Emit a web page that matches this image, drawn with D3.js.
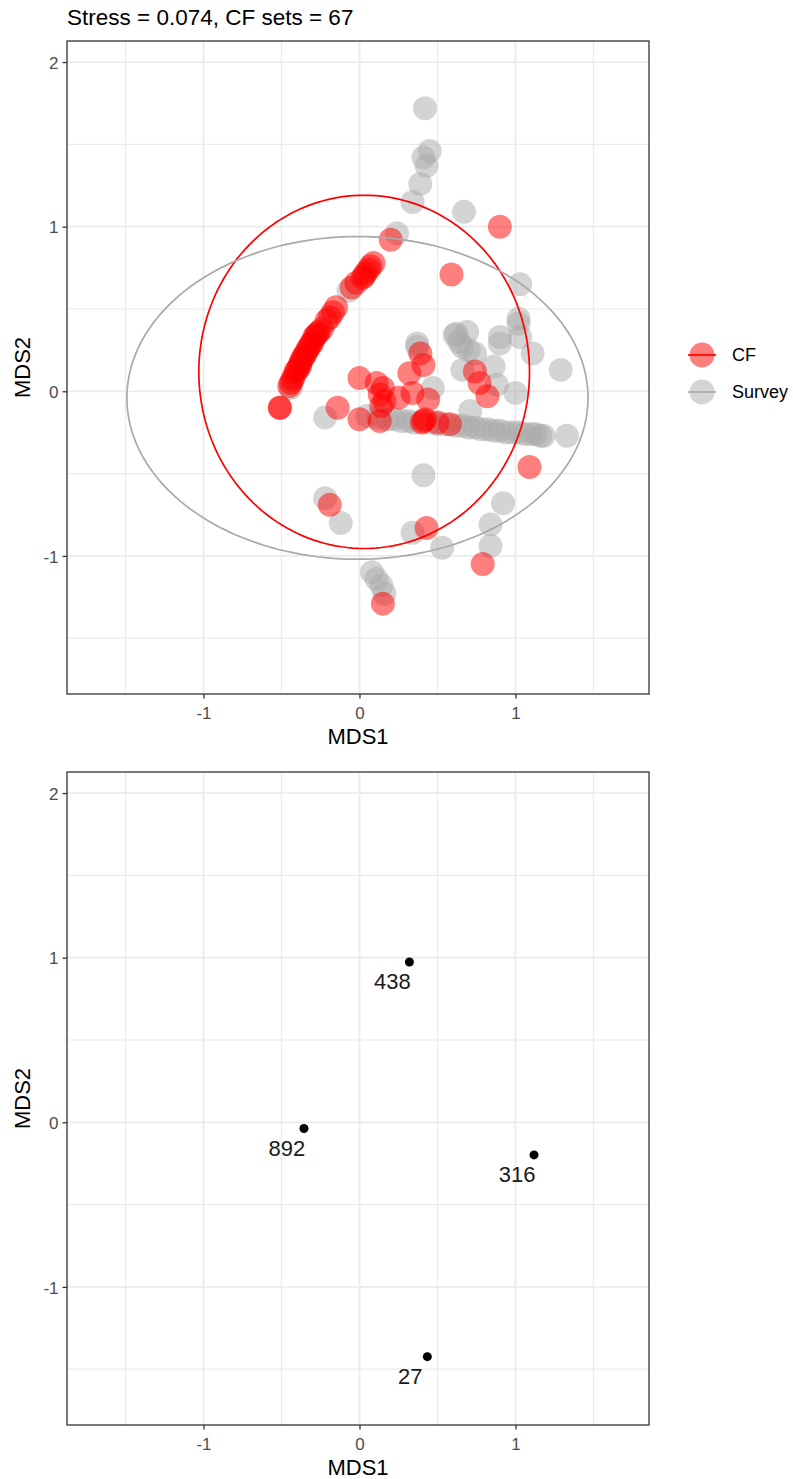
<!DOCTYPE html>
<html>
<head>
<meta charset="utf-8">
<script src="https://cdn.jsdelivr.net/npm/d3@7"></script>
<style>
  body { margin: 0; background: #fff; }
  svg text { font-family: "Liberation Sans", Arial, sans-serif; }
</style>
</head>
<body>
<div id="app"></div>
<script>
// CF sets (red)
const cfX = [-0.51, -0.45, -0.43, -0.42, -0.41, -0.39, -0.38, -0.37, -0.36, -0.34, -0.32, -0.30, -0.29, -0.27, -0.24, -0.21, -0.17, -0.15, -0.05, -0.02, 0.02, 0.04, 0.07, 0.09, 0.20,
  -0.44, -0.40, -0.38, -0.35, -0.33, -0.31, -0.28, -0.26, -0.19, 0.03, 0.06, -0.51,
  0.00, 0.11, 0.15, 0.13, 0.25, 0.32, 0.39, 0.41, 0.34, 0.44, -0.14, 0.00, 0.13, 0.14, 0.41, 0.50, 0.58, 0.74, 0.77, 0.82, 1.09, -0.19, 0.43, 0.79, 0.15, 0.90, 0.59, 0.16, 0.40, 0.42]
const cfY = [-0.10, 0.03, 0.07, 0.09, 0.12, 0.14, 0.16, 0.19, 0.21, 0.24, 0.27, 0.30, 0.33, 0.35, 0.38, 0.43, 0.48, 0.51, 0.63, 0.66, 0.69, 0.72, 0.76, 0.78, 0.92,
  0.05, 0.13, 0.17, 0.22, 0.26, 0.29, 0.34, 0.36, 0.45, 0.70, 0.74, -0.10,
  0.08, 0.05, 0.02, -0.02, -0.04, 0.11, 0.23, 0.16, -0.01, -0.05, -0.10, -0.17, -0.18, -0.09, -0.18, -0.19, -0.20, 0.12, 0.05, -0.03, -0.46, -0.69, -0.83, -1.05, -1.29, 1.00, 0.71, -0.06, -0.19, -0.17]

// Survey sets (grey)
const svX = [0.42, 0.45, 0.41, 0.43, 0.39, 0.34, 0.67, 0.24, -0.07, -0.44,
  1.03, 1.02, 0.62, 0.69, 0.90, 0.37, 0.37, 0.61, 0.66, 0.74, 0.90, 1.02, 1.03, 1.11, 1.29, 0.86, 0.66, 0.47, 0.88, 1.00, 0.71, 0.64, 0.70,
  -0.22,
  0.05, 0.12, 0.18, 0.22, 0.27, 0.31, 0.35, 0.45, 0.50, 0.55, 0.62, 0.66, 0.70, 0.74, 0.78, 0.82, 0.86, 0.90, 0.94, 0.98, 1.02, 1.06, 1.10, 1.13, 1.16, 1.18, 1.33,
  0.41, -0.22, -0.12, 0.34, 0.53, 0.92, 0.84, 0.84, 0.08, 0.11, 0.14, 0.16]
const svY = [1.72, 1.46, 1.42, 1.37, 1.26, 1.15, 1.09, 0.96, 0.61, 0.02,
  0.65, 0.44, 0.35, 0.36, 0.33, 0.29, 0.27, 0.34, 0.27, 0.23, 0.29, 0.41, 0.33, 0.23, 0.13, 0.15, 0.13, 0.02, 0.04, -0.01, -0.12, 0.30, 0.25,
  -0.16,
  -0.15, -0.16, -0.17, -0.17, -0.18, -0.18, -0.19, -0.19, -0.20, -0.20, -0.21, -0.21, -0.22, -0.22, -0.23, -0.23, -0.24, -0.24, -0.25, -0.25, -0.25, -0.26, -0.26, -0.26, -0.27, -0.27, -0.27,
  -0.51, -0.65, -0.80, -0.86, -0.95, -0.68, -0.81, -0.94, -1.10, -1.14, -1.18, -1.23]

// 95% ellipses: centre x, centre y, semi-axis x, semi-axis y
const groups = ['CF', 'Survey']
const groupColors = ['#ff0000', '#a9a9a9']
const ellCx = [0.03, -0.013]
const ellCy = [0.118, -0.04]
const ellRx = [1.06, 1.478]
const ellRy = [1.073, 0.98]

// bottom panel sites
const siteLabels = ['438', '892', '316', '27']
const siteX = [0.32, -0.356, 1.119, 0.435]
const siteY = [0.974, -0.038, -0.198, -1.424]

const title = 'Stress = 0.074, CF sets = 67'
const xTicks = [-1, 0, 1]
const yTicks = [-1, 0, 1, 2]
const xGrid = [-1.5, -1, -0.5, 0, 0.5, 1, 1.5]
const yGrid = [-1.5, -1, -0.5, 0, 0.5, 1, 1.5, 2]

const W = 793, H = 1479
const left = 67, right = 649

const svg = d3.select('#app').append('svg')
  .attr('width', W).attr('height', H)
  .attr('viewBox', [0, 0, W, H])

const x = d3.scaleLinear().domain([-1.875, 1.856]).range([left, right])

function panel(top, bottom) {
  const y = d3.scaleLinear().domain([-1.839, 2.128]).range([bottom, top])
  const g = svg.append('g')

  g.append('rect').attr('x', left).attr('y', top)
    .attr('width', right - left).attr('height', bottom - top).attr('fill', '#fff')

  g.selectAll('.vg').data(xGrid).join('line')
    .attr('x1', d => x(d)).attr('x2', d => x(d))
    .attr('y1', top).attr('y2', bottom)
    .attr('stroke', '#ebebeb')
    .attr('stroke-width', d => Number.isInteger(d) ? 1.8 : 1.2)
  g.selectAll('.hg').data(yGrid).join('line')
    .attr('y1', d => y(d)).attr('y2', d => y(d))
    .attr('x1', left).attr('x2', right)
    .attr('stroke', '#ebebeb')
    .attr('stroke-width', d => Number.isInteger(d) ? 1.8 : 1.2)

  // axes
  const xa = g.append('g').attr('transform', `translate(0,${bottom})`)
    .call(d3.axisBottom(x).tickValues(xTicks).tickSize(4.5).tickPadding(4).tickFormat(d => String(d)))
  const ya = g.append('g').attr('transform', `translate(${left},0)`)
    .call(d3.axisLeft(y).tickValues(yTicks).tickSize(4.5).tickPadding(4).tickFormat(d => String(d)))
  ;[xa, ya].forEach(a => {
    a.select('.domain').remove()
    a.selectAll('line').attr('stroke', '#333').attr('stroke-width', 1.3)
    a.selectAll('text').attr('fill', '#4d4d4d').style('font-size', '17px')
      .style('font-family', '"Liberation Sans", Arial, sans-serif')
  })
  xa.selectAll('text').attr('dy', null).attr('y', 25)
  ya.selectAll('text').attr('dy', '0.36em')

  g.append('text').attr('x', (left + right) / 2).attr('y', bottom + 50)
    .attr('text-anchor', 'middle').style('font-size', '22px').text('MDS1')
  g.append('text')
    .attr('transform', `translate(30,${(top + bottom) / 2}) rotate(-90)`)
    .attr('text-anchor', 'middle').style('font-size', '22px').text('MDS2')

  return { g, y, top, bottom }
}

// ---- top panel ----
const p1 = panel(41, 694)
svg.append('clipPath').attr('id', 'clip1')
  .append('rect').attr('x', left).attr('y', 41).attr('width', right - left).attr('height', 694 - 41)
const plot1 = p1.g.append('g').attr('clip-path', 'url(#clip1)')

const survey = svX.map((v, i) => ({ x: v, y: svY[i] }))
const cf = cfX.map((v, i) => ({ x: v, y: cfY[i] }))

plot1.selectAll('.sv').data(survey).join('circle')
  .attr('cx', d => x(d.x)).attr('cy', d => p1.y(d.y)).attr('r', 12)
  .attr('fill', groupColors[1]).attr('fill-opacity', 0.5)
plot1.selectAll('.cf').data(cf).join('circle')
  .attr('cx', d => x(d.x)).attr('cy', d => p1.y(d.y)).attr('r', 12)
  .attr('fill', groupColors[0]).attr('fill-opacity', 0.5)

const line = d3.line().x(d => x(d[0])).y(d => p1.y(d[1])).curve(d3.curveLinearClosed)
groups.forEach((gname, i) => {
  const pts = d3.range(0, 360, 2).map(a => {
    const t = a * Math.PI / 180
    return [ellCx[i] + ellRx[i] * Math.cos(t), ellCy[i] + ellRy[i] * Math.sin(t)]
  })
  plot1.append('path').attr('d', line(pts)).attr('fill', 'none')
    .attr('stroke', groupColors[i]).attr('stroke-width', 1.7)
})

p1.g.append('rect').attr('x', left).attr('y', 41).attr('width', right - left).attr('height', 694 - 41)
  .attr('fill', 'none').attr('stroke', '#333').attr('stroke-width', 1.3)

// title
svg.append('text').attr('x', left).attr('y', 25).style('font-size', '22.5px').text(title)

// legend
const legend = svg.append('g').selectAll('g').data(groups).join('g')
  .attr('transform', (d, i) => `translate(702,${355 + i * 37})`)
legend.append('circle').attr('r', 12.5)
  .attr('fill', (d, i) => groupColors[i]).attr('fill-opacity', 0.5)
legend.append('line').attr('x1', -14).attr('x2', 14)
  .attr('stroke', (d, i) => groupColors[i]).attr('stroke-width', 1.7)
legend.append('text').attr('x', 30).attr('dy', '0.36em')
  .style('font-size', '18px').text(d => d)

// ---- bottom panel ----
const p2 = panel(772, 1425)
const sites = siteLabels.map((l, i) => ({ label: l, x: siteX[i], y: siteY[i] }))
p2.g.selectAll('.site').data(sites).join('circle')
  .attr('cx', d => x(d.x)).attr('cy', d => p2.y(d.y)).attr('r', 4.5).attr('fill', '#000')
p2.g.selectAll('.lbl').data(sites).join('text')
  .attr('x', d => x(d.x) - 17).attr('y', d => p2.y(d.y) + 27)
  .attr('text-anchor', 'middle').style('font-size', '22px').attr('fill', '#1a1a1a')
  .text(d => d.label)
p2.g.append('rect').attr('x', left).attr('y', 772).attr('width', right - left).attr('height', 1425 - 772)
  .attr('fill', 'none').attr('stroke', '#333').attr('stroke-width', 1.3)
</script>
</body>
</html>
